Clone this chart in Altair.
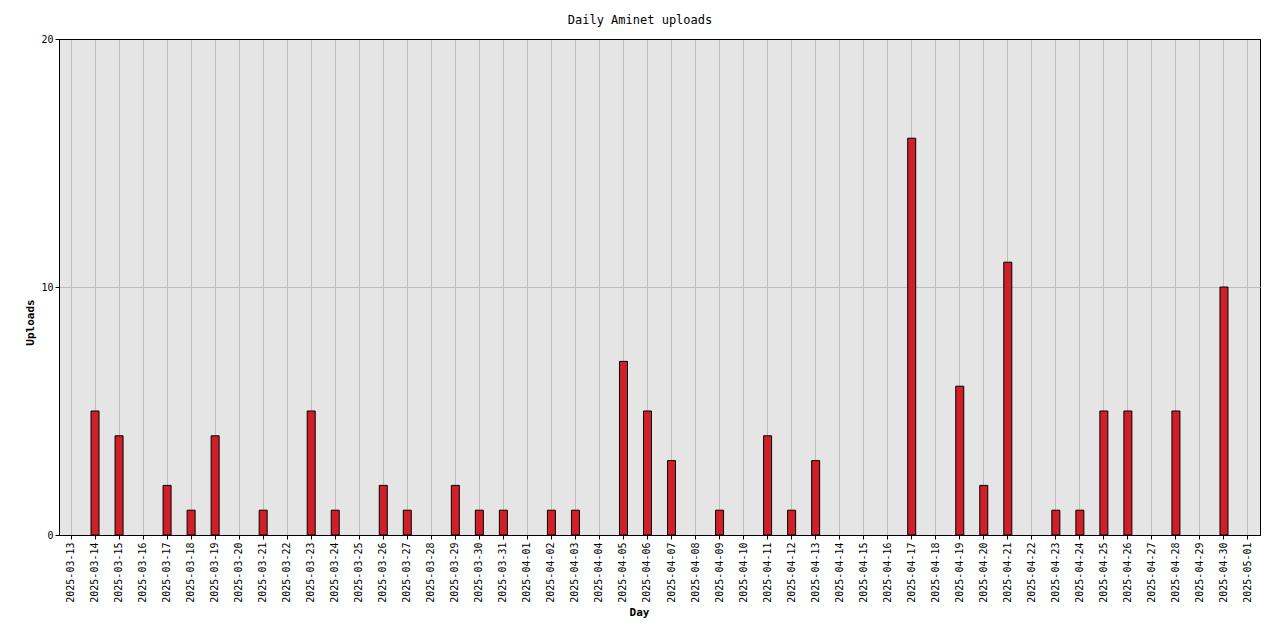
import altair as alt
import pandas as pd

days = [
    "2025-03-13", "2025-03-14", "2025-03-15", "2025-03-16", "2025-03-17",
    "2025-03-18", "2025-03-19", "2025-03-20", "2025-03-21", "2025-03-22",
    "2025-03-23", "2025-03-24", "2025-03-25", "2025-03-26", "2025-03-27",
    "2025-03-28", "2025-03-29", "2025-03-30", "2025-03-31", "2025-04-01",
    "2025-04-02", "2025-04-03", "2025-04-04", "2025-04-05", "2025-04-06",
    "2025-04-07", "2025-04-08", "2025-04-09", "2025-04-10", "2025-04-11",
    "2025-04-12", "2025-04-13", "2025-04-14", "2025-04-15", "2025-04-16",
    "2025-04-17", "2025-04-18", "2025-04-19", "2025-04-20", "2025-04-21",
    "2025-04-22", "2025-04-23", "2025-04-24", "2025-04-25", "2025-04-26",
    "2025-04-27", "2025-04-28", "2025-04-29", "2025-04-30", "2025-05-01",
]
uploads = [
    0, 5, 4, 0, 2,
    1, 4, 0, 1, 0,
    5, 1, 0, 2, 1,
    0, 2, 1, 1, 0,
    1, 1, 0, 7, 5,
    3, 0, 1, 0, 4,
    1, 3, 0, 0, 0,
    16, 0, 6, 2, 11,
    0, 1, 1, 5, 5,
    0, 5, 0, 10, 0,
]
y_ticks = [0, 10, 20]

df = pd.DataFrame({"Day": days, "Uploads": uploads})
FONT = "DejaVu Sans Mono"

chart = (
    alt.Chart(df, title=alt.TitleParams(
        "Daily Aminet uploads", font=FONT, fontSize=12, fontWeight="normal",
        color="black", anchor="middle", dx=-19.5, offset=7))
    .mark_bar(width=8, fill="#cf2029", stroke="black", strokeWidth=1)
    .encode(
        x=alt.X("Day:O", sort=days,
                scale=alt.Scale(domain=days, paddingInner=0, paddingOuter=0),
                axis=alt.Axis(
                    title="Day", labelAngle=270, labelFont=FONT, labelFontSize=10,
                    labelColor="black", labelPadding=3, tickSize=4,
                    tickColor="black", domainColor="black", grid=True,
                    gridColor="#bdbdbd", gridWidth=1, bandPosition=0.5,
                    titleFont=FONT, titleFontSize=11, titleFontWeight="bold",
                    titleColor="black", titleX=580, titleY=77,
                    titleAlign="center", titleBaseline="middle")),
        y=alt.Y("Uploads:Q",
                scale=alt.Scale(domain=[0, 20], nice=False),
                axis=alt.Axis(
                    values=y_ticks, labelFont=FONT, labelFontSize=10,
                    labelColor="black", labelPadding=2, tickSize=4,
                    tickColor="black", domainColor="black", grid=True,
                    gridColor={"condition": {"test": "datum.value === 20 || datum.value === 0",
                                             "value": "black"},
                               "value": "#bdbdbd"},
                    gridWidth=1,
                    title="Uploads", titleFont=FONT, titleFontSize=11,
                    titleFontWeight="bold", titleColor="black",
                    titleAngle=270, titleX=-29, titleY=283,
                    titleAlign="center", titleBaseline="middle")),
    )
    .transform_filter("datum.Uploads > 0")
    .properties(
        width=1201, height=496,
        autosize=alt.AutoSizeParams(type="none"),
        padding={"left": 51, "top": 31, "right": 10, "bottom": 90},
        background="white",
    )
    .configure_view(fill="#e5e5e5", stroke="black", strokeWidth=1)
)

chart.save("out.html", embed_options={"renderer": "svg", "actions": False})
